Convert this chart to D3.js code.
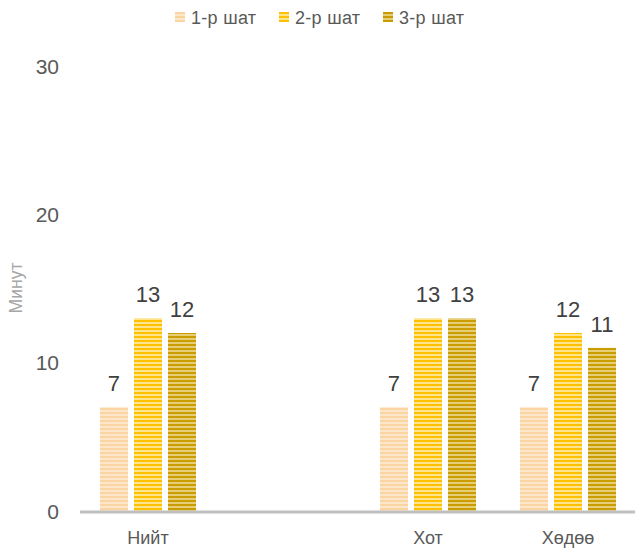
<!DOCTYPE html>
<html><head><meta charset="utf-8">
<script src="https://cdn.jsdelivr.net/npm/d3@7"></script>
<style>body{margin:0;background:#fff}svg{display:block}text{font-family:"Liberation Sans","Open Sans",sans-serif}</style>
</head><body>
<svg id="c" width="635" height="548"></svg>
<script>
const categories = ["Нийт", "", "Хот", "Хөдөө"];
const seriesNames = ["1-р шат", "2-р шат", "3-р шат"];
const series1 = [7, null, 7, 7];
const series2 = [13, null, 13, 12];
const series3 = [12, null, 13, 11];
const yTicks = [0, 10, 20, 30];
const yTitle = "Минут";

const seriesValues = [series1, series2, series3];
const darkCols = ["#fbd4a3", "#ffc000", "#c99c00"];
const lightCols = ["#fde7cb", "#ffe48e", "#e8cd78"];

const svg = d3.select("#c");
const defs = svg.append("defs");
seriesNames.forEach((s, i) => {
  const p = defs.append("pattern").attr("id", "pat" + i).attr("patternUnits", "userSpaceOnUse")
    .attr("width", 8).attr("height", 4);
  p.append("rect").attr("width", 8).attr("height", 4).attr("fill", darkCols[i]);
  p.append("rect").attr("y", 2).attr("width", 8).attr("height", 2).attr("fill", lightCols[i]);
});

const plotTop = 66, plotBottom = 511;
const y = d3.scaleLinear().domain([0, 30]).range([plotBottom, plotTop]);
const x0 = d3.scaleBand().domain(categories.map((c, i) => i)).range([78, 638]).paddingInner(0.314).paddingOuter(0.157);
const x1 = d3.scaleBand().domain(seriesNames.map((s, i) => i)).range([0, x0.bandwidth()]).paddingInner(0.176).paddingOuter(0);

// y tick labels
svg.append("g").selectAll("text").data(yTicks).join("text")
  .attr("x", 59).attr("y", d => y(d)).attr("dy", "0.36em").attr("text-anchor", "end")
  .attr("font-size", 21).attr("fill", "#595959").text(d => d);

// y title
svg.append("text").attr("transform", `translate(22,288) rotate(-90)`)
  .attr("text-anchor", "middle").attr("font-size", 17.5).attr("fill", "#a6a6a6").text(yTitle);

// bars
const groups = svg.append("g").selectAll("g").data(categories.map((c, i) => i)).join("g")
  .attr("transform", i => `translate(${x0(i)},0)`);
seriesValues.forEach((vals, si) => {
  groups.filter(ci => vals[ci] != null).append("rect")
    .attr("x", x1(si)).attr("width", x1.bandwidth())
    .attr("y", ci => y(vals[ci])).attr("height", ci => y(0) - y(vals[ci]))
    .attr("fill", `url(#pat${si})`);
  groups.filter(ci => vals[ci] != null).append("text")
    .attr("x", x1(si) + x1.bandwidth() / 2).attr("y", ci => y(vals[ci]) - 16)
    .attr("text-anchor", "middle").attr("font-size", 22).attr("fill", "#404040")
    .text(ci => vals[ci]);
});

// x axis line
svg.append("line").attr("x1", 80).attr("x2", 635).attr("y1", y(0) + 1).attr("y2", y(0) + 1)
  .attr("stroke", "#bfbfbf").attr("stroke-width", 3);

// category labels
svg.append("g").selectAll("text").data(categories.map((c, i) => i)).join("text")
  .attr("x", i => x0(i) + x0.bandwidth() / 2).attr("y", 544).attr("text-anchor", "middle")
  .attr("font-size", 18).attr("fill", "#595959").text(i => categories[i]);

// legend
const legX = [175, 279, 383];
const leg = svg.append("g").selectAll("g").data(seriesNames.map((s, i) => i)).join("g")
  .attr("transform", i => `translate(${legX[i]},12)`);
leg.append("rect").attr("width", 10).attr("height", 10).attr("fill", i => `url(#pat${i})`);
leg.append("text").attr("x", 16).attr("y", 5.5).attr("dy", "0.36em").attr("font-size", 18)
  .attr("letter-spacing", 0.3).attr("fill", "#595959").text(i => seriesNames[i]);
</script>
</body></html>
